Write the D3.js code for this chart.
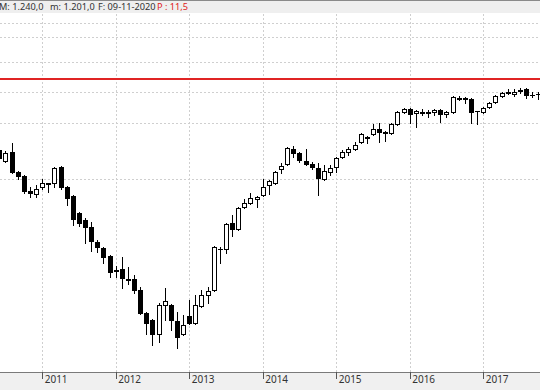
<!DOCTYPE html>
<html>
<head>
<meta charset="utf-8">
<script src="https://cdn.jsdelivr.net/npm/d3@7"></script>
<style>
  body { margin: 0; background: #fff; overflow: hidden; }
  svg { display: block; font-family: 'Noto Sans', 'Open Sans', sans-serif; }
</style>
</head>
<body>
<div class="chart-container"></div>
<script>
// monthly candles, Jun 2010 .. Oct 2017
const months = [
  '2010-06','2010-07','2010-08','2010-09','2010-10','2010-11','2010-12',
  '2011-01','2011-02','2011-03','2011-04','2011-05','2011-06','2011-07','2011-08','2011-09','2011-10','2011-11','2011-12',
  '2012-01','2012-02','2012-03','2012-04','2012-05','2012-06','2012-07','2012-08','2012-09','2012-10','2012-11','2012-12',
  '2013-01','2013-02','2013-03','2013-04','2013-05','2013-06','2013-07','2013-08','2013-09','2013-10','2013-11','2013-12',
  '2014-01','2014-02','2014-03','2014-04','2014-05','2014-06','2014-07','2014-08','2014-09','2014-10','2014-11','2014-12',
  '2015-01','2015-02','2015-03','2015-04','2015-05','2015-06','2015-07','2015-08','2015-09','2015-10','2015-11','2015-12',
  '2016-01','2016-02','2016-03','2016-04','2016-05','2016-06','2016-07','2016-08','2016-09','2016-10','2016-11','2016-12',
  '2017-01','2017-02','2017-03','2017-04','2017-05','2017-06','2017-07','2017-08','2017-09','2017-10'
];
const opens = [
  1130,1108,1126,1086,1078,1048,1042,
  1056,1063,1064,1096,1056,1038,1004,990,976,946,934,918,
  890,892,872,872,850,804,790,762,820,820,788,762,
  798,784,818,840,850,932,932,984,972,1016,1024,1032,
  1040,1060,1064,1092,1102,1132,1124,1108,1102,1094,1072,1086,
  1096,1116,1126,1132,1146,1156,1162,1172,1166,1164,1182,1206,
  1212,1204,1206,1205,1206,1210,1202,1206,1234,1234,1232,1208,
  1206,1216,1226,1238,1244,1242,1250,1252,1240,1242
];
const highs = [
  1136,1128,1144,1088,1080,1056,1060,
  1072,1065,1096,1098,1058,1040,1006,994,986,950,936,920,
  898,916,896,880,856,806,792,824,854,822,806,800,
  830,840,850,856,938,936,984,1000,1016,1032,1044,1038,
  1072,1070,1088,1104,1136,1138,1126,1132,1106,1104,1100,1100,
  1116,1130,1136,1146,1164,1158,1182,1184,1168,1184,1208,1214,
  1214,1210,1212,1210,1212,1212,1208,1238,1238,1236,1234,1209,
  1216,1226,1240,1246,1252,1252,1254,1254,1246,1246
];
const lows = [
  1110,1106,1084,1072,1044,1036,1036,
  1052,1046,1056,1052,1020,980,978,944,928,926,904,876,
  876,854,862,844,802,762,740,746,790,770,734,760,
  782,782,816,824,848,904,924,958,970,1014,1022,1016,
  1038,1042,1062,1084,1100,1116,1106,1100,1092,1040,1070,1080,
  1086,1114,1120,1130,1144,1144,1160,1146,1148,1162,1180,1204,
  1184,1176,1200,1196,1200,1186,1196,1204,1230,1224,1184,1182,
  1204,1214,1224,1236,1243,1238,1244,1234,1236,1232
];
const closes = [
  1114,1124,1086,1078,1048,1044,1052,
  1064,1064,1094,1056,1034,992,984,976,948,936,916,886,
  889,874,871,850,804,784,762,820,828,790,756,780,
  784,820,840,848,936,931,982,972,1014,1024,1034,1036,
  1056,1068,1086,1098,1134,1124,1110,1102,1096,1074,1088,1094,
  1114,1126,1132,1140,1162,1155,1172,1166,1165,1182,1206,1212,
  1202,1208,1205,1206,1210,1202,1206,1236,1233,1233,1206,1207,
  1214,1224,1238,1244,1246,1246,1249,1240,1239,1241
];
const yearLabels = ['2011', '2012', '2013', '2014', '2015', '2016', '2017'];
const gridLevels = [1384, 1356, 1306, 1246, 1184, 1072];
const redLevel = 1272;
const headerItems = ['M: 1.240,0', 'm: 1.201,0', 'F: 09-11-2020'];
const headerLast = 'P : 11,5';

const width = 540;
const height = 390;
const plotTop = 14;
const axisY = 372;

const svg = d3.select('.chart-container')
  .append('svg')
  .attr('width', width)
  .attr('height', height);

// month number counted from Jan 2011
const monthIndex = s => {
  const [y, m] = s.split('-').map(Number);
  return (y - 2011) * 12 + (m - 1);
};

const candles = months.map((m, i) => ({
  i: monthIndex(m),
  o: opens[i], h: highs[i], l: lows[i], c: closes[i]
}));

// scales
const xScale = d3.scaleLinear()
  .domain([0, 72])
  .range([42.2, 483.2]);

const yScale = d3.scaleLinear()
  .domain([700, 1400])
  .range([365, 15]);

// header strip
svg.append('rect')
  .attr('x', 0).attr('y', 0)
  .attr('width', width).attr('height', plotTop - 1)
  .attr('fill', '#efefef');
svg.append('line')
  .attr('x1', 0).attr('x2', width)
  .attr('y1', 0.5).attr('y2', 0.5)
  .attr('stroke', '#8a8a8a');

const headerX = [-1, 50, 98];
svg.selectAll('.header-text')
  .data(headerItems)
  .enter().append('text')
  .attr('class', 'header-text')
  .attr('x', (d, i) => headerX[i])
  .attr('y', 10)
  .style('font-size', '9.2px')
  .attr('fill', '#333')
  .text(d => d);

svg.append('text')
  .attr('x', 157)
  .attr('y', 10)
  .style('font-size', '9.2px')
  .attr('fill', '#e02020')
  .text(headerLast);

// horizontal gridlines
svg.append('g')
  .attr('class', 'grid')
  .call(d3.axisRight(yScale)
    .tickValues(gridLevels)
    .tickSize(width)
    .tickFormat(''))
  .call(g => g.select('.domain').remove())
  .call(g => g.selectAll('line')
    .attr('stroke', '#cfcfcf')
    .attr('stroke-dasharray', '2,2')
    .attr('shape-rendering', 'crispEdges'));

// vertical gridlines at each january
const yearTicks = yearLabels.map(y => monthIndex(y + '-01'));
svg.append('g')
  .attr('class', 'grid')
  .attr('transform', `translate(0, ${axisY})`)
  .call(d3.axisTop(xScale)
    .tickValues(yearTicks)
    .tickSize(axisY - plotTop)
    .tickFormat(''))
  .call(g => g.select('.domain').remove())
  .call(g => g.selectAll('line')
    .attr('stroke', '#cfcfcf')
    .attr('stroke-dasharray', '2,2')
    .attr('shape-rendering', 'crispEdges'));

// red level line
svg.append('line')
  .attr('x1', 0).attr('x2', width)
  .attr('y1', yScale(redLevel)).attr('y2', yScale(redLevel))
  .attr('stroke', '#e02424')
  .attr('stroke-width', 2);

// candles
const candleG = svg.append('g').attr('class', 'candles');

candleG.selectAll('.wick')
  .data(candles)
  .enter().append('line')
  .attr('class', 'wick')
  .attr('x1', d => Math.round(xScale(d.i)) + 0.5)
  .attr('x2', d => Math.round(xScale(d.i)) + 0.5)
  .attr('y1', d => Math.round(yScale(d.h)))
  .attr('y2', d => Math.round(yScale(d.l)) + 1)
  .attr('stroke', '#000');

const bodyTop = d => Math.round(yScale(Math.max(d.o, d.c)));
const bodyBottom = d => Math.round(yScale(Math.min(d.o, d.c)));

candleG.selectAll('.body')
  .data(candles.filter(d => bodyBottom(d) - bodyTop(d) >= 1))
  .enter().append('rect')
  .attr('class', 'body')
  .attr('x', d => Math.round(xScale(d.i)) - 1.5)
  .attr('y', d => bodyTop(d) + 0.5)
  .attr('width', 4)
  .attr('height', d => bodyBottom(d) - bodyTop(d))
  .attr('fill', d => d.c >= d.o ? '#fff' : '#000')
  .attr('stroke', '#000');

candleG.selectAll('.doji')
  .data(candles.filter(d => bodyBottom(d) - bodyTop(d) < 1))
  .enter().append('line')
  .attr('class', 'doji')
  .attr('x1', d => Math.round(xScale(d.i)) - 2)
  .attr('x2', d => Math.round(xScale(d.i)) + 3)
  .attr('y1', d => bodyTop(d) + 0.5)
  .attr('y2', d => bodyTop(d) + 0.5)
  .attr('stroke', '#000');

// bottom axis strip
svg.append('rect')
  .attr('x', 0).attr('y', axisY)
  .attr('width', width).attr('height', height - axisY)
  .attr('fill', '#f0f0f0');
svg.append('line')
  .attr('x1', 0).attr('x2', width)
  .attr('y1', axisY + 0.5).attr('y2', axisY + 0.5)
  .attr('stroke', '#7a7a7a');

const xAxis = svg.append('g')
  .attr('class', 'x-axis')
  .attr('transform', `translate(0, ${axisY})`)
  .call(d3.axisBottom(xScale)
    .tickValues(yearTicks)
    .tickSize(7)
    .tickFormat((d, i) => yearLabels[i]));

xAxis.select('.domain').remove();
xAxis.selectAll('line')
  .attr('stroke', '#555')
  .attr('shape-rendering', 'crispEdges');
xAxis.selectAll('text')
  .style('font-family', "'Noto Sans', 'Open Sans', sans-serif")
  .style('font-size', '10px')
  .style('text-anchor', 'start')
  .attr('fill', '#333')
  .attr('x', 2)
  .attr('y', 4);
</script>
</body>
</html>
